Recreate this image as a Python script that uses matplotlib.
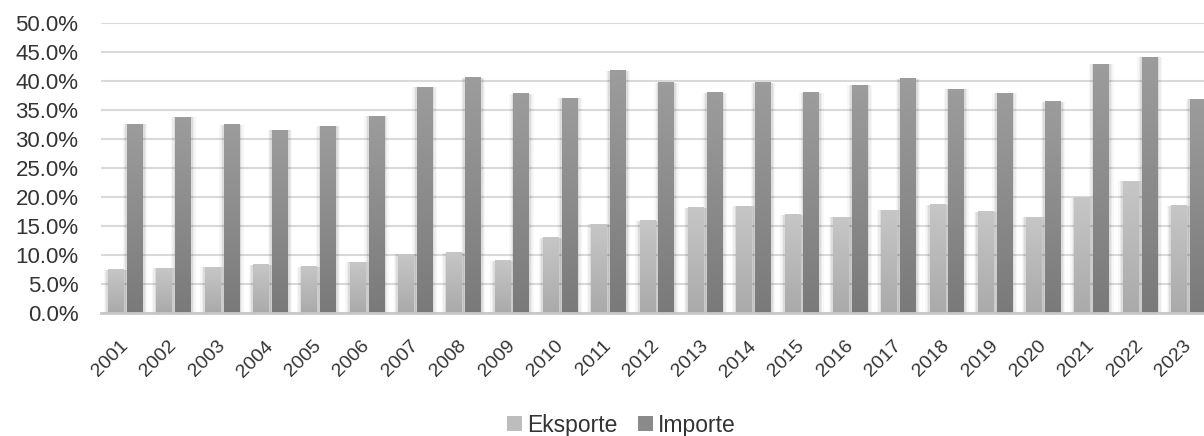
import numpy as np
import matplotlib
matplotlib.use('Agg')
import matplotlib.pyplot as plt
from matplotlib.colors import LinearSegmentedColormap
from matplotlib.patches import Patch
from matplotlib.transforms import ScaledTranslation
import matplotlib.ticker as ticker

# Data
years = [str(y) for y in range(2001, 2024)]
eksporte = [7.5, 7.7, 7.9, 8.3, 8.0, 8.8, 10.1, 10.4, 9.0, 13.0, 15.3, 15.9,
            18.2, 18.4, 17.0, 16.5, 17.7, 18.7, 17.5, 16.5, 19.9, 22.7, 18.5]
importe = [32.6, 33.8, 32.5, 31.5, 32.2, 34.0, 39.0, 40.6, 37.8, 37.1, 41.8, 39.7,
           38.0, 39.7, 38.0, 39.3, 40.4, 38.6, 37.9, 36.5, 42.9, 44.1, 36.9]
series_names = ['Eksporte', 'Importe']

plt.rcParams['font.family'] = ['Liberation Sans', 'DejaVu Sans']
text_color = '#333333'

fig = plt.figure(figsize=(12.04, 4.36), dpi=100)
ax = fig.add_axes([101.3 / 1204, 123 / 436, 1111.4 / 1204, 289.7 / 436])

x = np.arange(len(years))
width = 0.33
offset = 0.195

# gradient maps (bottom -> top)
cmap_eks = LinearSegmentedColormap.from_list('eks', ['#aaaaaa', '#c6c6c6'])
cmap_imp = LinearSegmentedColormap.from_list('imp', ['#7a7a7a', '#9c9c9c'])
grad = np.linspace(0, 1, 64).reshape(-1, 1)

for vals, pos, cmap in [(eksporte, x - offset, cmap_eks), (importe, x + offset, cmap_imp)]:
    # soft shadow around each bar
    for extra, a in [(0.18, 0.04), (0.12, 0.06), (0.07, 0.09)]:
        ax.bar(pos, vals, width=width + extra, color='#404040', alpha=a,
               linewidth=0, zorder=2)
    bars = ax.bar(pos, vals, width=width, color='none', linewidth=0, zorder=3)
    for b in bars:
        x0 = b.get_x()
        ax.imshow(grad, cmap=cmap, aspect='auto', origin='lower',
                  extent=[x0, x0 + b.get_width(), 0, b.get_height()], zorder=3)

ax.set_xlim(-0.5, len(years) - 0.5)
ax.set_ylim(0, 50)
ax.set_yticks(np.arange(0, 51, 5))
ax.yaxis.set_major_formatter(ticker.FuncFormatter(lambda v, p: f'{v:.1f}%'))
ax.set_xticks(x)
ax.set_xticklabels(years, rotation=45, ha='right', va='center', rotation_mode='anchor')
shift = ScaledTranslation(-0.04, 0, fig.dpi_scale_trans)
for lbl in ax.get_xticklabels():
    lbl.set_transform(lbl.get_transform() + shift)

ax.grid(axis='y', color='#d9d9d9', linewidth=1.5, zorder=0)
ax.set_axisbelow(True)
for side in ['top', 'right', 'left']:
    ax.spines[side].set_visible(False)
ax.spines['bottom'].set_color('#c8c8c8')
ax.spines['bottom'].set_linewidth(2)
ax.spines['bottom'].set_zorder(4)
ax.tick_params(axis='both', length=0, labelcolor=text_color)
ax.tick_params(axis='y', pad=16.5, labelsize=16)
ax.tick_params(axis='x', pad=22, labelsize=14)

handles = [Patch(facecolor='#bdbdbd', edgecolor='none'),
           Patch(facecolor='#8a8a8a', edgecolor='none')]
fig.legend(handles, series_names, loc='center', bbox_to_anchor=(0.516, 0.025),
           ncol=2, frameon=False, fontsize=16.5, handlelength=0.66, handleheight=0.66,
           handletextpad=0.2, columnspacing=0.9, labelcolor=text_color,
           borderpad=0, borderaxespad=0)

fig.savefig('out.png', dpi=100)
